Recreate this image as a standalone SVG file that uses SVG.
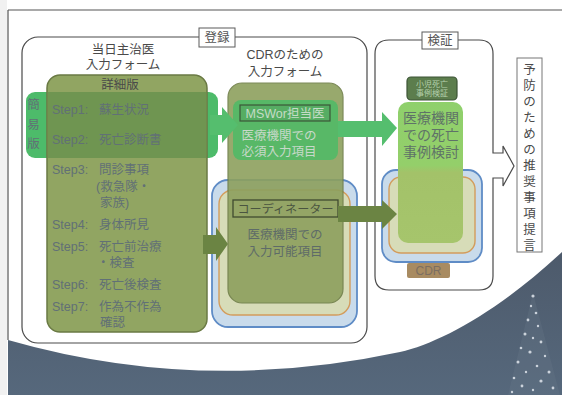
<svg xmlns="http://www.w3.org/2000/svg" width="562" height="395" viewBox="0 0 562 395">
  <defs>
    <linearGradient id="night" x1="0" y1="0" x2="0" y2="1">
      <stop offset="0" stop-color="#4d5a6b"/>
      <stop offset="1" stop-color="#56687c"/>
    </linearGradient>
    <linearGradient id="reviewFill" gradientUnits="userSpaceOnUse" x1="0" y1="102" x2="0" y2="243">
      <stop offset="0" stop-color="#8fd06c"/>
      <stop offset="0.45" stop-color="#94cf6a"/>
      <stop offset="0.5" stop-color="#a3c269"/>
      <stop offset="1" stop-color="#a6c56c"/>
    </linearGradient>
    <style>
      text { font-family: "Liberation Sans", "Noto Sans CJK JP", sans-serif; dominant-baseline: central; }
      .title { font-size: 12.5px; fill: #4a4a4a; text-anchor: middle; }
      .tag { font-size: 12.5px; fill: #555; text-anchor: middle; }
      .step { font-size: 12.5px; fill: #617076; }
      .mid { text-anchor: middle; }
      .frame { fill: none; stroke: #4a4a4a; stroke-width: 1.2; }
      .labelbox { fill: #ffffff; stroke: #5a5a5a; stroke-width: 1; }
      .blue { fill: #c9dbeb; stroke: #5f8cc6; stroke-width: 1.8; }
      .orange { fill: #d7dcb8; stroke: #d39c5c; stroke-width: 1.4; }
      .olivearrow { fill: #6b8443; }
      .greenarrow { fill: #55be6e; }
      .spark { fill: #e8eef4; opacity: 0.8; }
    </style>
  </defs>

  <!-- page background and outer frame -->
  <rect x="0" y="0" width="562" height="395" fill="#ffffff"/>
  <rect x="0" y="0" width="7" height="395" fill="#f1f1f1"/>
  <path d="M8,10 H562 M8,10 V340" stroke="#555" stroke-width="1.2" fill="none"/>

  <!-- night sky band with tree -->
  <path d="M8,340 Q200,395 400,352 C440,343 500,310 562,252 V395 H8 Z" fill="url(#night)"/>
  <g id="tree">
    <path d="M533,293 L508,395 L560,395 Z" fill="#6d7d8c" opacity="0.25"/>
    <circle class="spark" cx="533" cy="296" r="1.6"/>
    <circle class="spark" cx="531" cy="306" r="1.2"/>
    <circle class="spark" cx="536" cy="313" r="1.3"/>
    <circle class="spark" cx="528" cy="320" r="1.4"/>
    <circle class="spark" cx="538" cy="326" r="1.2"/>
    <circle class="spark" cx="525" cy="334" r="1.5"/>
    <circle class="spark" cx="533" cy="338" r="1.2"/>
    <circle class="spark" cx="541" cy="342" r="1.4"/>
    <circle class="spark" cx="521" cy="348" r="1.3"/>
    <circle class="spark" cx="530" cy="352" r="1.6"/>
    <circle class="spark" cx="545" cy="356" r="1.2"/>
    <circle class="spark" cx="518" cy="362" r="1.5"/>
    <circle class="spark" cx="537" cy="366" r="1.3"/>
    <circle class="spark" cx="526" cy="372" r="1.2"/>
    <circle class="spark" cx="549" cy="372" r="1.5"/>
    <circle class="spark" cx="514" cy="378" r="1.3"/>
    <circle class="spark" cx="541" cy="381" r="1.6"/>
    <circle class="spark" cx="522" cy="386" r="1.4"/>
    <circle class="spark" cx="533" cy="390" r="1.2"/>
    <circle class="spark" cx="553" cy="388" r="1.4"/>
    <circle class="spark" cx="512" cy="392" r="1.2"/>
  </g>

  <!-- registration stage -->
  <g id="registration">
    <rect class="frame" x="22" y="37" width="345" height="306" rx="16" fill="#ffffff"/>
    <rect class="labelbox" x="199" y="28" width="36" height="19"/>
    <text class="tag" x="217" y="37.5">登録</text>
  </g>

  <!-- review stage with outgoing arrow -->
  <g id="review">
    <path class="frame" fill="#ffffff" d="M389,40 H479 Q493,40 493,54 V153 H503 V146 L514,166 L503,186 V178 H493 V276 Q493,290 479,290 H389 Q375,290 375,276 V54 Q375,40 389,40 Z"/>
    <rect class="labelbox" x="422" y="32" width="36" height="17"/>
    <text class="tag" x="440" y="40.5">検証</text>
  </g>

  <!-- recommendation output -->
  <g id="recommendation">
    <rect x="517" y="58" width="25" height="194" fill="#ffffff" stroke="#777" stroke-width="1"/>
    <g class="title" font-size="14" fill="#555">
      <text x="529.5" y="70">予</text>
      <text x="529.5" y="86">防</text>
      <text x="529.5" y="102">の</text>
      <text x="529.5" y="118">た</text>
      <text x="529.5" y="134">め</text>
      <text x="529.5" y="150">の</text>
      <text x="529.5" y="166">推</text>
      <text x="529.5" y="182">奨</text>
      <text x="529.5" y="198">事</text>
      <text x="529.5" y="214">項</text>
      <text x="529.5" y="230">提</text>
      <text x="529.5" y="246">言</text>
    </g>
  </g>

  <!-- attending physician form -->
  <g id="physician-form">
    <text class="title" x="123" y="50">当日主治医</text>
    <text class="title" x="123" y="65">入力フォーム</text>
    <rect x="26" y="92" width="192" height="66" rx="9" fill="#4dbb6a"/>
    <rect x="47" y="75" width="160" height="257" rx="13" fill="#91a562" stroke="#6a7a44" stroke-width="1.5"/>
    <rect x="47.8" y="92" width="158.4" height="66" fill="#6f9551"/>
    <text class="title" x="120" y="85" fill="#5c6a66">詳細版</text>
    <g class="step" fill="#5a7a8a" font-size="13">
      <text x="33.5" y="105" class="mid">簡</text>
      <text x="33.5" y="125" class="mid">易</text>
      <text x="33.5" y="144" class="mid">版</text>
    </g>
    <g class="step">
      <text x="52" y="110">Step1:</text><text x="99" y="110">蘇生状況</text>
      <text x="52" y="140">Step2:</text><text x="99" y="140">死亡診断書</text>
      <text x="52" y="170">Step3:</text><text x="99" y="170">問診事項</text>
      <text x="96" y="187">(救急隊・</text>
      <text x="100" y="203">家族)</text>
      <text x="52" y="225">Step4:</text><text x="99" y="225">身体所見</text>
      <text x="52" y="247">Step5:</text><text x="99" y="247">死亡前治療</text>
      <text x="97" y="263">・検査</text>
      <text x="52" y="285">Step6:</text><text x="99" y="285">死亡後検査</text>
      <text x="52" y="307">Step7:</text><text x="99" y="307">作為不作為</text>
      <text x="100" y="323">確認</text>
    </g>
  </g>

  <!-- CDR input form -->
  <g id="cdr-form">
    <text class="title" x="285" y="55">CDRのための</text>
    <text class="title" x="285" y="72">入力フォーム</text>
    <rect class="blue" x="212" y="180" width="145" height="147" rx="16"/>
    <rect class="orange" x="219" y="190" width="131" height="125" rx="14"/>
    <rect x="228" y="83" width="115" height="220" rx="14" fill="#8da05e" opacity="0.9" stroke="#6f7e48" stroke-width="1.2"/>
    <g id="msw-items">
      <rect x="233" y="100" width="105" height="60" rx="8" fill="#58b867"/>
      <rect x="240" y="105" width="90" height="16" fill="#56ad63" stroke="#3b5638" stroke-width="1.2"/>
      <text x="285" y="113.5" class="mid" font-size="12.5" fill="#c4dcc6">MSWor担当医</text>
      <text x="279" y="136" class="mid" font-size="12.5" fill="#c7d8c9">医療機関での</text>
      <text x="279" y="152" class="mid" font-size="12.5" fill="#c7d8c9">必須入力項目</text>
    </g>
    <g id="coordinator-items">
      <rect x="233" y="200" width="105" height="17" fill="none" stroke="#3f4a30" stroke-width="1.3"/>
      <text x="285.5" y="208.5" class="mid" font-size="11.5" fill="#4a5440" textLength="96" lengthAdjust="spacingAndGlyphs">コーディネーター</text>
      <text x="285" y="235" class="mid" font-size="12.5" fill="#5e6b68">医療機関での</text>
      <text x="285" y="252" class="mid" font-size="12.5" fill="#5e6b68">入力可能項目</text>
    </g>
  </g>

  <!-- hospital case review -->
  <g id="case-review">
    <rect class="blue" x="382" y="170" width="100" height="92" rx="14"/>
    <rect class="orange" x="389" y="177" width="86" height="76" rx="12"/>
    <rect x="398" y="102" width="65" height="141" rx="10" fill="url(#reviewFill)"/>
    <rect x="407" y="77" width="50" height="23" rx="4" fill="#5c7d4d" stroke="#3c5436" stroke-width="1.2"/>
    <text x="432" y="84" class="mid" font-size="8" fill="#b4d0ac">小児死亡</text>
    <text x="432" y="93.5" class="mid" font-size="8" fill="#b4d0ac">事例検証</text>
    <text x="431" y="118" class="mid" font-size="14" fill="#5f7268">医療機関</text>
    <text x="431" y="135" class="mid" font-size="14" fill="#5f7268">での死亡</text>
    <text x="431" y="152" class="mid" font-size="14" fill="#5f7268">事例検討</text>
    <rect x="407" y="263" width="43" height="15" rx="2" fill="#a88b61"/>
    <text x="428.5" y="271" class="mid" font-size="12" fill="#7c6e60">CDR</text>
  </g>

  <!-- connectors -->
  <g id="connectors">
    <polygon class="greenarrow" points="210,115 222,115 222,107 238,125 222,143 222,135 210,135"/>
    <polygon class="greenarrow" points="338,121 382,121 382,112 397,128 382,146 382,137 338,137"/>
    <polygon class="olivearrow" points="203,235 216,235 216,227 228,244 216,261 216,254 203,254"/>
    <polygon class="olivearrow" points="338,206 382,206 382,200 397,214 382,229 382,222 338,222"/>
  </g>
</svg>
